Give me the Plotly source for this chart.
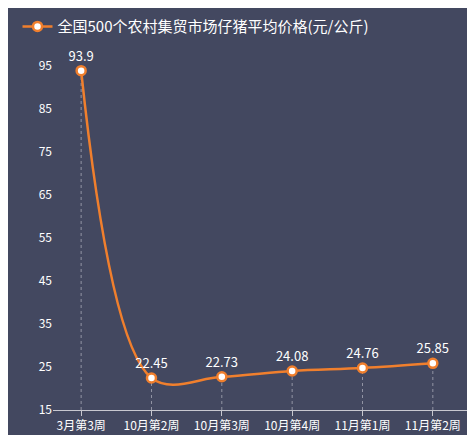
import plotly.graph_objects as go

categories = ["3月第3周", "10月第2周", "10月第3周", "10月第4周", "11月第1周", "11月第2周"]
values = [93.9, 22.45, 22.73, 24.08, 24.76, 25.85]
labels = ["93.9", "22.45", "22.73", "24.08", "24.76", "25.85"]
series_name = "全国500个农村集贸市场仔猪平均价格(元/公斤)"

bg = "#434860"
orange = "#f07f2d"
font = "Noto Sans CJK SC"

fig = go.Figure()
for c, v in zip(categories, values):
    fig.add_trace(go.Scatter(x=[c, c], y=[15, v], mode="lines",
                             line=dict(color="rgba(200,200,210,0.6)", width=1, dash="dot"),
                             showlegend=False, hoverinfo="skip"))
fig.add_trace(go.Scatter(
    x=categories, y=values, name=series_name, mode="lines+markers+text",
    line=dict(color=orange, width=2.5, shape="spline", smoothing=1.0),
    marker=dict(size=9, color="white", line=dict(color=orange, width=2.5)),
    text=labels, textposition="top center",
    textfont=dict(color="white", size=13, family=font),
))
fig.update_layout(
    width=475, height=435, paper_bgcolor=bg, plot_bgcolor=bg,
    margin=dict(l=45, r=15, t=30, b=33, autoexpand=False),
    font=dict(family=font, color="white", size=12),
    legend=dict(x=0.02, y=0.995, xanchor="left", yanchor="top", orientation="h",
                yref="container", xref="container",
                font=dict(size=15, color="white"), bgcolor="rgba(0,0,0,0)"),
    showlegend=True,
    xaxis=dict(showgrid=False, showline=True, linecolor="#c8c8d0", ticks="outside",
               tickcolor="#c8c8d0", tickfont=dict(size=12, color="white"),
               range=[-0.4, 5.5]),
    yaxis=dict(range=[15, 101.5], tickvals=[15, 25, 35, 45, 55, 65, 75, 85, 95],
               showgrid=False, zeroline=False, showline=False,
               tickfont=dict(size=12, color="white")),
)
fig.write_html("out.html")
